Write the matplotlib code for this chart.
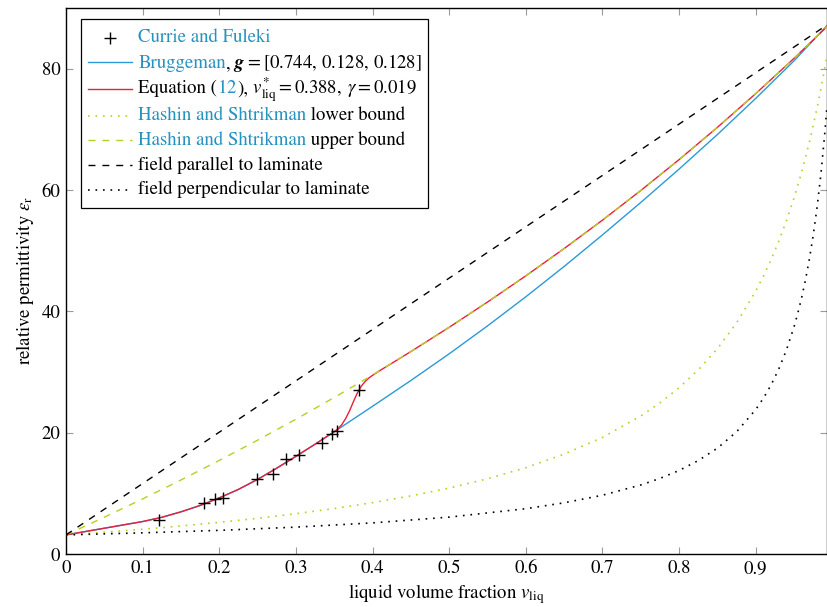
import matplotlib
matplotlib.use("Agg")
import matplotlib.pyplot as plt
import numpy as np
from matplotlib.lines import Line2D
from matplotlib.offsetbox import AnchoredOffsetbox, DrawingArea, TextArea, HPacker, VPacker

# ---------------------------------------------------------------- data
# measured points (Currie and Fuleki)
v_meas = [0.1217, 0.1804, 0.1943, 0.2052, 0.2495, 0.2696, 0.2869, 0.3043, 0.3335, 0.3473, 0.3531, 0.3826]
eps_meas = [5.61, 8.47, 9.02, 9.19, 12.42, 13.20, 15.73, 16.28, 18.36, 19.79, 20.29, 27.05]

# common low-fraction part of Bruggeman / Equation (12)
v_low = [0.0, 0.025, 0.05, 0.075, 0.1, 0.125, 0.15, 0.175, 0.2, 0.225, 0.25, 0.275, 0.3, 0.325, 0.35]
eps_low = [3.15, 3.7, 4.25, 4.8, 5.35, 6.05, 6.95, 8.0, 9.25, 10.65, 12.3, 14.15, 16.1, 18.1, 20.15]

# Bruggeman above v = 0.35
v_brug = [0.4, 0.45, 0.5, 0.55, 0.6, 0.65, 0.7, 0.75, 0.8, 0.85, 0.9, 0.95, 0.993]
eps_brug = [24.35, 28.6, 33.0, 37.6, 42.4, 47.4, 52.6, 57.95, 63.45, 69.15, 75.1, 81.3, 87.1]

# Equation (12) above v = 0.35
v_eq = [0.355, 0.36, 0.365, 0.37, 0.375, 0.38, 0.385, 0.39, 0.395, 0.4, 0.41, 0.45, 0.5, 0.55,
        0.6, 0.65, 0.7, 0.75, 0.8, 0.85, 0.9, 0.95, 0.993]
eps_eq = [20.65, 21.35, 22.35, 23.6, 25.1, 26.5, 27.6, 28.4, 29.0, 29.45, 30.27, 33.37, 37.37, 41.53,
          45.85, 50.35, 55.03, 59.92, 65.01, 70.33, 75.89, 81.71, 86.93]

# Hashin-Shtrikman upper bound
v_hs_up = [0.0, 0.05, 0.1, 0.15, 0.2, 0.25, 0.3, 0.35, 0.4, 0.45, 0.5, 0.55, 0.6, 0.65, 0.7,
           0.75, 0.8, 0.85, 0.9, 0.95, 0.993]
eps_hs_up = [3.15, 6.07, 9.08, 12.20, 15.43, 18.76, 22.22, 25.80, 29.51, 33.37, 37.37, 41.53, 45.85,
             50.35, 55.03, 59.92, 65.01, 70.33, 75.89, 81.71, 86.93]

# Hashin-Shtrikman lower bound
v_hs_low = [0.0, 0.05, 0.1, 0.15, 0.2, 0.25, 0.3, 0.35, 0.4, 0.45, 0.5, 0.55, 0.6, 0.65, 0.7,
            0.75, 0.775, 0.8, 0.825, 0.85, 0.875, 0.9, 0.91, 0.92, 0.93, 0.94, 0.95, 0.96, 0.97,
            0.98, 0.985, 0.99, 0.993]
eps_hs_low = [3.15, 3.6, 4.08, 4.62, 5.22, 5.88, 6.64, 7.5, 8.46, 9.58, 10.87, 12.4, 14.23, 16.46,
              19.22, 22.75, 24.91, 27.41, 30.35, 33.85, 38.09, 43.34, 45.8, 48.52, 51.54, 54.91,
              58.69, 62.98, 67.87, 73.51, 76.66, 80.07, 82.25]

# laminate limits
v_par = [0.0, 0.993]
eps_par = [3.15, 87.21]
v_perp = [0.0, 0.1, 0.2, 0.3, 0.4, 0.5, 0.6, 0.65, 0.7, 0.75, 0.775, 0.8, 0.825, 0.85, 0.875,
          0.9, 0.91, 0.92, 0.93, 0.94, 0.95, 0.955, 0.96, 0.965, 0.97, 0.975, 0.98, 0.985, 0.99, 0.993]
eps_perp = [3.15, 3.49, 3.9, 4.43, 5.13, 6.08, 7.47, 8.44, 9.69, 11.38, 12.46, 13.77, 15.4, 17.45,
            20.14, 23.81, 25.68, 27.87, 30.47, 33.61, 37.46, 39.74, 42.32, 45.24, 48.61, 52.52,
            57.11, 62.57, 69.2, 73.9]

# ---------------------------------------------------------------- style
plt.rcParams['font.family'] = ['STIXGeneral']
plt.rcParams['mathtext.fontset'] = 'stix'

c_link = '#2592bf'
c_brug = '#2a9ad8'
c_eq = '#e8203a'
c_hs = '#b9cf24'
fs = 13.5

fig = plt.figure(figsize=(8.28, 6.07), dpi=100)
ax = fig.add_axes([0.0797, 0.0873, 0.9191, 0.8995])

ax.plot(np.concatenate([v_low, v_brug]), np.concatenate([eps_low, eps_brug]), color=c_brug, lw=1.0, zorder=2)
ax.plot(np.concatenate([v_low, v_eq]), np.concatenate([eps_low, eps_eq]), color=c_eq, lw=1.0, zorder=3)
ax.plot(v_hs_up, eps_hs_up, color=c_hs, lw=1.0, ls=(0, (5, 5)), zorder=4)
ax.plot(v_hs_low, eps_hs_low, color=c_hs, lw=1.2, ls=(0, (1, 3.5)), zorder=4)
ax.plot(v_par, eps_par, color='black', lw=1.0, ls=(0, (5, 5)), zorder=4)
ax.plot(v_perp, eps_perp, color='black', lw=1.2, ls=(0, (1, 3.5)), zorder=4)
ax.plot(v_meas, eps_meas, ls='none', marker='+', ms=9, mew=1.0, color='black', zorder=5)

ax.set_xlim(0, 0.993)
ax.set_ylim(0, 90)
ax.set_xticks([0, 0.1, 0.2, 0.3, 0.4, 0.5, 0.6, 0.7, 0.8, 0.9])
ax.set_xticklabels(['0', '0.1', '0.2', '0.3', '0.4', '0.5', '0.6', '0.7', '0.8', '0.9'])
ax.set_yticks([0, 20, 40, 60, 80])
ax.tick_params(direction='in', length=5, width=0.8, color='#9a9a9a', top=True, right=True,
               labelsize=fs, pad=4)
for s in ax.spines.values():
    s.set_linewidth(1.0)
ax.set_xlabel(r'liquid volume fraction $v_{\mathrm{liq}}$', fontsize=fs, labelpad=4)
ax.set_ylabel(r'relative permittivity $\varepsilon_{\mathrm{r}}$', fontsize=fs, labelpad=4)


# ---------------------------------------------------------------- legend with mixed-colour text
ROW_H = 17.7


def handle(ls='-', color='black', marker=None, lw=1.0):
    da = DrawingArea(32, ROW_H, 0, 0)
    if marker:
        da.add_artist(Line2D([16], [ROW_H / 2], ls='none', marker=marker, ms=9, mew=1.0, color=color))
    else:
        da.add_artist(Line2D([0, 32], [ROW_H / 2, ROW_H / 2], ls=ls, color=color, lw=lw))
    return da


def label(parts):
    boxes = []
    for txt, col, extra in parts:
        props = dict(color=col, fontsize=fs)
        props.update(extra)
        boxes.append(TextArea(txt, textprops=props))
    return HPacker(children=boxes, align='baseline', pad=0, sep=0)


rows = [
    (handle(marker='+'), [('Currie and Fuleki', c_link, {})]),
    (handle(color=c_brug), [('Bruggeman', c_link, {}), (',', 'black', {}),
                            (' g', 'black', dict(fontweight='bold', fontstyle='italic')),
                            (r'$=[0.744,\,0.128,\,0.128]$', 'black', {})]),
    (handle(color=c_eq), [('Equation (', 'black', {}), (r'$\mathrm{12}$', c_link, {}), ('),', 'black', {}),
                          (r' $v^{*}_{\mathrm{liq}} = 0.388,\;\gamma = 0.019$', 'black', {})]),
    (handle(ls=(0, (1, 3.5)), color=c_hs, lw=1.2), [('Hashin and Shtrikman', c_link, {}),
                                                   (' lower bound', 'black', {})]),
    (handle(ls=(0, (5, 5)), color=c_hs), [('Hashin and Shtrikman', c_link, {}),
                                          (' upper bound', 'black', {})]),
    (handle(ls=(0, (5, 5))), [('field parallel to laminate', 'black', {})]),
    (handle(ls=(0, (1, 3.5)), lw=1.2), [('field perpendicular to laminate', 'black', {})]),
]
packed = [HPacker(children=[h, label(p)], align='center', pad=0, sep=4.5) for h, p in rows]
vbox = VPacker(children=packed, align='left', pad=0, sep=0)
box = AnchoredOffsetbox(loc='upper left', child=vbox, pad=0.35, borderpad=0,
                        frameon=True, prop=dict(size=fs),
                        bbox_to_anchor=(0.0197, 0.98), bbox_transform=ax.transAxes)
box.patch.set_boxstyle('square', pad=0)
box.patch.set_edgecolor('black')
box.patch.set_linewidth(0.9)
box.zorder = 10
ax.add_artist(box)

fig.savefig('out.png', dpi=100)
